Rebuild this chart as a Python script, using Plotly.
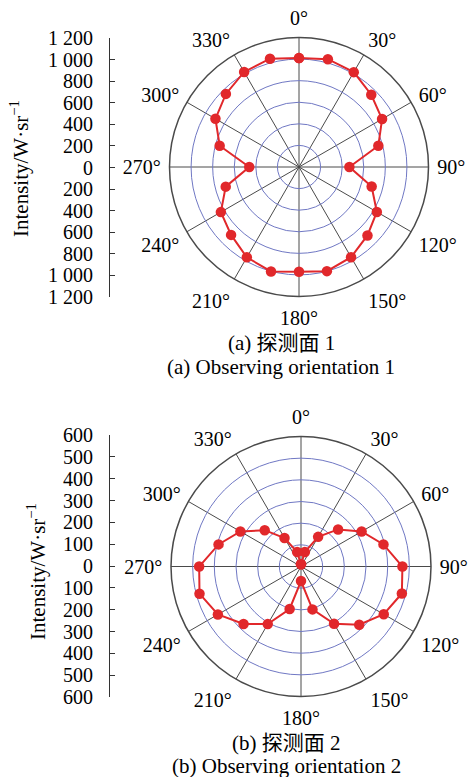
import plotly.graph_objects as go

W, H = 468, 777

# ---- data ----
angles = [0, 15, 30, 45, 60, 75, 90, 105, 120, 135, 150, 165,
          180, 195, 210, 225, 240, 255, 270, 285, 300, 315, 330, 345]

intensity_a = [1009, 1034, 1015, 947, 889, 761, 467, 697, 833, 897, 965, 999,
               971, 1002, 967, 890, 836, 703, 461, 761, 894, 958, 1017, 1039]

intensity_b = [10, 69, 158, 242, 323, 394, 468, 482, 441, 380, 305, 205,
               67, 203, 307, 375, 443, 485, 470, 394, 323, 237, 152, 69]

angle_ticks = [0, 30, 60, 90, 120, 150, 180, 210, 240, 270, 300, 330]
angle_labels = [f"{a}°" for a in angle_ticks]

ticks_a = [-1200, -1000, -800, -600, -400, -200, 0, 200, 400, 600, 800, 1000, 1200]
labels_a = ["1 200", "1 000", "800", "600", "400", "200", "0", "200", "400", "600", "800", "1 000", "1 200"]
ticks_b = [-600, -500, -400, -300, -200, -100, 0, 100, 200, 300, 400, 500, 600]
labels_b = ["600", "500", "400", "300", "200", "100", "0", "100", "200", "300", "400", "500", "600"]

rings_a = [200, 400, 600, 800, 1000]
rings_b = [100, 200, 300, 400, 500]

captions_cn = ["(a) 探测面 1", "(b) 探测面 2"]
captions_en = ["(a) Observing orientation 1", "(b) Observing orientation 2"]
axis_title = "Intensity/W·sr<sup>−1</sup>"

# ---- style ----
SERIF = "Liberation Serif, Times New Roman, Noto Sans CJK SC, serif"
RED = "#e1282b"
BLUE = "#7078c4"
GRAY = "#4a4a4a"


def px_x(v):
    return v / W


def px_y(v):
    return 1 - v / H


fig = go.Figure()

def close(a, r):
    return a + [a[0]], r + [r[0]]

th_a, r_a = close(angles, intensity_a)
th_b, r_b = close(angles, intensity_b)

marker = dict(color=RED, size=10.5)
line = dict(color=RED, width=2)
fig.add_trace(go.Scatterpolar(theta=th_a, r=r_a, mode="lines+markers", marker=marker,
                              line=line, subplot="polar", showlegend=False, hoverinfo="skip"))
fig.add_trace(go.Scatterpolar(theta=th_b, r=r_b, mode="lines+markers", marker=marker,
                              line=line, subplot="polar2", showlegend=False, hoverinfo="skip"))

# empty traces so the cartesian scales render
fig.add_trace(go.Scatter(x=[None], y=[None], xaxis="x", yaxis="y", showlegend=False))
fig.add_trace(go.Scatter(x=[None], y=[None], xaxis="x2", yaxis="y2", showlegend=False))


def polar_cfg(cx, cy, r, rmax, rings):
    return dict(
        domain=dict(x=[px_x(cx - r), px_x(cx + r)], y=[px_y(cy + r), px_y(cy - r)]),
        bgcolor="white",
        angularaxis=dict(rotation=90, direction="clockwise", tickmode="array",
                         tickvals=angle_ticks, ticktext=angle_labels,
                         ticks="outside", ticklen=4, tickcolor="rgba(0,0,0,0)",
                         showline=True, linecolor=GRAY, linewidth=1.5,
                         gridcolor=GRAY, gridwidth=1,
                         tickfont=dict(family=SERIF, size=20, color="black")),
        radialaxis=dict(range=[0, rmax], tickmode="array", tickvals=rings,
                        showticklabels=False, ticks="", showline=False,
                        gridcolor=BLUE, gridwidth=1),
    )


fig.update_layout(
    width=W, height=H,
    margin=dict(l=0, r=0, t=0, b=0, pad=0, autoexpand=False),
    paper_bgcolor="white", plot_bgcolor="rgba(0,0,0,0)",
    polar=polar_cfg(299, 167, 129.5, 1200, rings_a),
    polar2=polar_cfg(301, 566.5, 130, 600, rings_b),
)


def scale_axes(top, bottom, rng, tv, tt):
    xa = dict(domain=[px_x(110), px_x(160)], visible=False, range=[0, 1], automargin=False)
    ya = dict(domain=[px_y(bottom), px_y(top)], range=rng, tickmode="array",
              tickvals=tv, ticktext=tt, showline=True, linecolor="#333", linewidth=1.2,
              ticks="inside", ticklen=5, tickcolor="#333", showgrid=False, zeroline=False,
              automargin=False, ticklabelstandoff=12,
              tickfont=dict(family=SERIF, size=20, color="black"), fixedrange=True)
    return xa, ya


xa1, ya1 = scale_axes(38, 297, [-1200, 1200], ticks_a, labels_a)
xa2, ya2 = scale_axes(435, 697, [-600, 600], ticks_b, labels_b)
ya1["anchor"] = "x"
ya2["anchor"] = "x2"
xa1["anchor"] = "y"
xa2["anchor"] = "y2"
fig.update_layout(xaxis=xa1, yaxis=ya1, xaxis2=xa2, yaxis2=ya2)

ann_font = dict(family=SERIF, size=21, color="black")
annotations = [
    dict(text=axis_title, x=px_x(20), y=px_y(169), textangle=-90),
    dict(text=axis_title, x=px_x(36), y=px_y(572), textangle=-90),
    dict(text=captions_cn[0], x=px_x(281), y=px_y(343)),
    dict(text=captions_en[0], x=px_x(281), y=px_y(367)),
    dict(text=captions_cn[1], x=px_x(286), y=px_y(743)),
    dict(text=captions_en[1], x=px_x(286), y=px_y(766)),
]
for a in annotations:
    a.update(xref="paper", yref="paper", showarrow=False, xanchor="center",
             yanchor="middle", font=ann_font)
fig.update_layout(annotations=annotations)

fig.write_html("out.html", config={"displayModeBar": False},
               post_script="document.body.style.margin='0px';document.body.style.overflow='hidden';")
